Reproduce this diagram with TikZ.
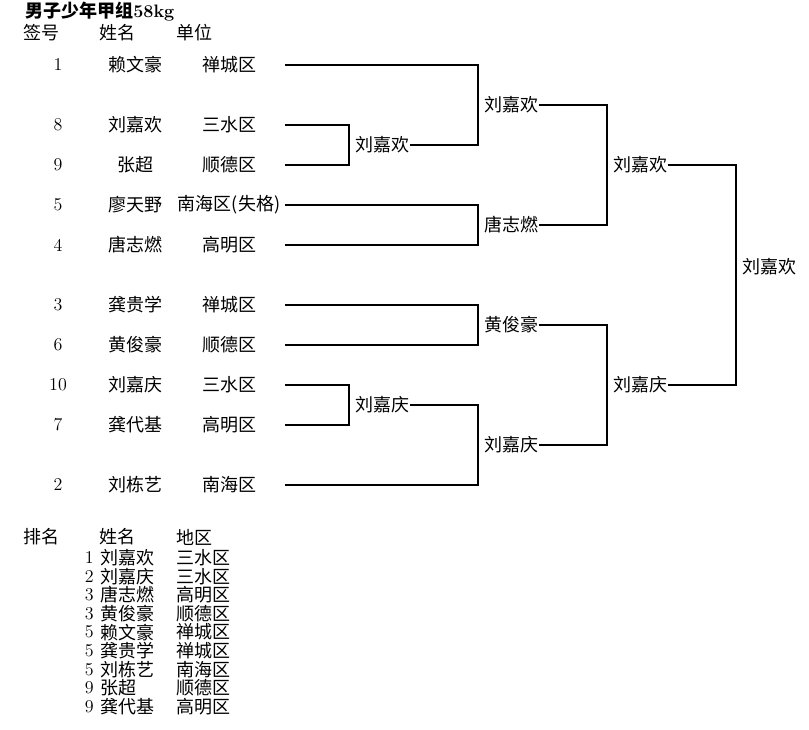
\documentclass[tikz,border=0pt]{standalone}
\usepackage{fontspec}
\newfontfamily\cjk{Noto Sans CJK SC}
\usetikzlibrary{positioning}
\begin{document}
\begin{tikzpicture}[x=0.75pt,y=-0.75pt,
    every node/.style={font=\fontsize{13.5}{15}\selectfont,inner sep=0pt},
    cell/.style={font=\fontsize{13.5}{15}\selectfont\cjk},
    win/.style={cell,right=4.5pt of #1},
    bracket/.style={line width=1pt}]
  \useasboundingbox (0,0) rectangle (809,729);
  \node[anchor=west,font=\fontsize{13.5}{15}\selectfont\bfseries] (title) at (25,12) {{\cjk 男子少年甲组}58kg};
  \node[cell] (hseed) at (41.5,33) {签号};
  \node[cell] (hname) at (117.5,33) {姓名};
  \node[cell] (hunit) at (194,33) {单位};
  % draw sheet
  \foreach \s/\n/\u/\y in {1/赖文豪/禅城区/65, 8/刘嘉欢/三水区/125, 9/张超/顺德区/165,
      5/廖天野/南海区(失格)/205, 4/唐志燃/高明区/245, 3/龚贵学/禅城区/305,
      6/黄俊豪/顺德区/345, 10/刘嘉庆/三水区/385, 7/龚代基/高明区/425, 2/刘栋艺/南海区/485}
  {
    \node (s\s) at (58,\y) {\s};
    \node[cell] (n\s) at (135,\y) {\n};
    \node[cell] (u\s) at (229,\y) {\u};
    \coordinate (p\s) at (285,\y);
  }
  \coordinate (j89) at (349,145);
  \coordinate (j107) at (349,405);
  \coordinate (j18) at (478,105);
  \coordinate (j54) at (478,225);
  \coordinate (j36) at (478,325);
  \coordinate (j72) at (478,445);
  \coordinate (jtop) at (607,165);
  \coordinate (jbot) at (607,385);
  \coordinate (jfin) at (736,267);
  \node[win=j89] (m89) {刘嘉欢};
  \node[win=j107] (m107) {刘嘉庆};
  \node[win=j18] (m18) {刘嘉欢};
  \node[win=j54] (m54) {唐志燃};
  \node[win=j36] (m36) {黄俊豪};
  \node[win=j72] (m72) {刘嘉庆};
  \node[win=jtop] (mtop) {刘嘉欢};
  \node[win=jbot] (mbot) {刘嘉庆};
  \node[win=jfin] (mfin) {刘嘉欢};
  \draw[bracket] (p8) -| (j89) |- (p9);
  \draw[bracket] (p10) -| (j107) |- (p7);
  \draw[bracket] (p1) -| (j18) |- (m89.east);
  \draw[bracket] (p5) -| (j54) |- (p4);
  \draw[bracket] (p3) -| (j36) |- (p6);
  \draw[bracket] (m107.east) -| (j72) |- (p2);
  \draw[bracket] (m18.east) -| (jtop) |- (m54.east);
  \draw[bracket] (m36.east) -| (jbot) |- (m72.east);
  \draw[bracket] (mtop.east) -| (jfin) |- (mbot.east);
  % ranking
  \node[cell] (hrank) at (41.5,537) {排名};
  \node[cell] (hrname) at (117.5,537) {姓名};
  \node[cell] (hregion) at (194,537) {地区};
  \foreach \r/\n/\u [count=\k, evaluate=\k as \y using 538.9+18.65*\k] in
      {1/刘嘉欢/三水区, 2/刘嘉庆/三水区, 3/唐志燃/高明区, 3/黄俊豪/顺德区, 5/赖文豪/禅城区,
       5/龚贵学/禅城区, 5/刘栋艺/南海区, 9/张超/顺德区, 9/龚代基/高明区}
  {
    \node[anchor=east] (r\k) at (94,\y) {\r};
    \node[cell,anchor=west] (rn\k) at (100,\y) {\n};
    \node[cell,anchor=west] (ru\k) at (176,\y) {\u};
  }
\end{tikzpicture}
\end{document}
